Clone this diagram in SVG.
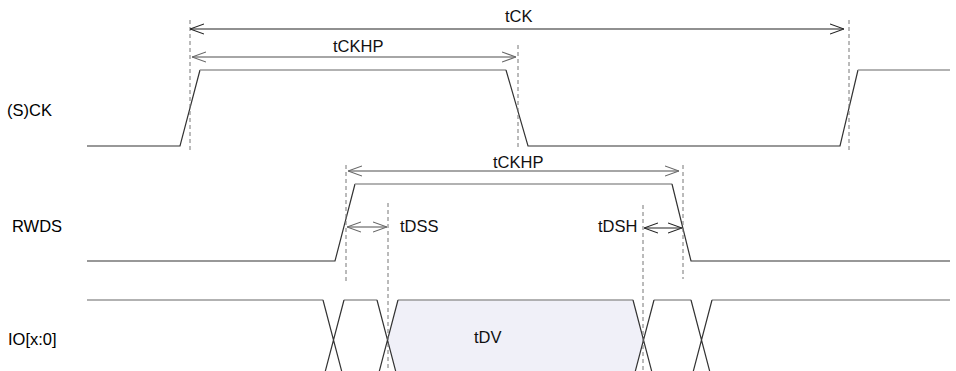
<svg xmlns="http://www.w3.org/2000/svg" width="956" height="371" viewBox="0 0 956 371">
<defs>
<style>
.sig{fill:none;stroke:#333;stroke-width:1.2}
.hi{fill:none;stroke:#999;stroke-width:1.6}
.dash{fill:none;stroke:#777;stroke-width:1;stroke-dasharray:4 3}
.arr{fill:none;stroke:#222;stroke-width:1.1;marker-start:url(#ah);marker-end:url(#ah)}
.arrg{fill:none;stroke:#888;stroke-width:1.4;marker-start:url(#ahg);marker-end:url(#ahg)}
.lbl{font-family:"Liberation Sans",Arial,sans-serif;font-size:16.5px;fill:#000}
.tl{font-family:"Liberation Sans",Arial,sans-serif;font-size:16.5px;fill:#111}
</style>
<marker id="ah" viewBox="0 0 14 12" refX="14" refY="6" markerWidth="14" markerHeight="12" markerUnits="userSpaceOnUse" orient="auto-start-reverse">
<path d="M0,1 L14,6 L0,11" fill="none" stroke="#222" stroke-width="1.1"/>
</marker>
<marker id="ahg" viewBox="0 0 14 12" refX="14" refY="6" markerWidth="14" markerHeight="12" markerUnits="userSpaceOnUse" orient="auto-start-reverse">
<path d="M0,1 L14,6 L0,11" fill="none" stroke="#666" stroke-width="1.1"/>
</marker>
</defs>
<rect width="956" height="371" fill="#fff"/>

<g id="labels">
<text class="lbl" x="7" y="116">(S)CK</text>
<text class="lbl" x="12" y="232">RWDS</text>
<text class="lbl" x="8" y="345">IO[x:0]</text>
</g>

<g id="sck">
<path class="sig" d="M87,146 H180 L200,70"/>
<path class="hi" d="M200,70 H506"/>
<path class="sig" d="M506,70 L528,146 H840 L858,70"/>
<path class="hi" d="M858,70 H950"/>
</g>

<g id="rwds">
<path class="sig" d="M87,261 H335 L355,184"/>
<path class="hi" d="M355,184 H672"/>
<path class="sig" d="M672,184 L691,261 H950"/>
</g>

<g id="io">
<polygon points="398,300 633,300 643.5,340 633,380 398,380 387.5,340" fill="#f0f0f8" stroke="none"/>
<path class="hi" d="M87,300 H323 M344,300 H377 M398,300 H633 M654,300 H691 M712,300 H950"/>
<path class="sig" d="M323,300 L344,380 M344,300 L323,380 M377,300 L398,380 M398,300 L377,380 M633,300 L654,380 M654,300 L633,380 M691,300 L712,380 M712,300 L691,380"/>
<text class="tl" x="474" y="343">tDV</text>
</g>

<g id="connectors">
<line class="dash" x1="190" y1="20" x2="190" y2="150"/>
<line class="dash" x1="518" y1="45" x2="518" y2="147"/>
<line class="dash" x1="849" y1="20" x2="849" y2="150"/>
<line class="dash" x1="346" y1="165" x2="346" y2="283"/>
<line class="dash" x1="388" y1="203" x2="388" y2="371"/>
<line class="dash" x1="643" y1="205" x2="643" y2="371"/>
<line class="dash" x1="683" y1="165" x2="683" y2="279"/>

<line class="arr" x1="190" y1="29" x2="844" y2="29"/>
<line class="arrg" x1="192" y1="57" x2="516" y2="57"/>
<line class="arrg" x1="348" y1="171" x2="679" y2="171"/>
<line class="arrg" x1="347" y1="227" x2="387" y2="227"/>
<line class="arr" x1="644" y1="228" x2="682" y2="228"/>
</g>

<g id="timing-labels">
<text class="tl" x="505" y="22">tCK</text>
<text class="tl" x="333" y="52">tCKHP</text>
<text class="tl" x="493" y="168">tCKHP</text>
<text class="tl" x="400" y="232">tDSS</text>
<text class="tl" x="598" y="232">tDSH</text>
</g>
</svg>
